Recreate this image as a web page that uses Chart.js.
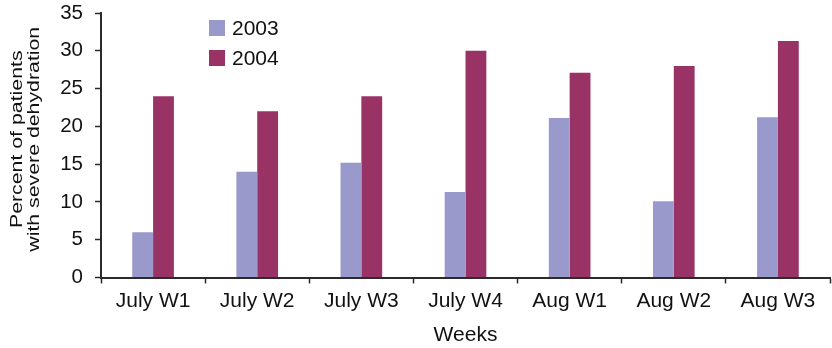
<!DOCTYPE html>
<html>
<head>
<meta charset="utf-8">
<script src="https://cdn.jsdelivr.net/npm/chart.js@4/dist/chart.umd.min.js"></script>
<style>
  html, body { margin: 0; padding: 0; background: #fff; }
  #wrap { width: 832px; height: 348px; }
</style>
</head>
<body>
<div id="wrap"><canvas id="chart" width="832" height="348"></canvas></div>
<script>
// Weekly share of patients presenting with severe dehydration
const weeks = ['July W1', 'July W2', 'July W3', 'July W4', 'Aug W1', 'Aug W2', 'Aug W3'];
const pct2003 = [6, 14, 15.2, 11.3, 21.1, 10.1, 21.2];
const pct2004 = [24, 22, 24, 30, 27.1, 28, 31.3];
const yTicks = [0, 5, 10, 15, 20, 25, 30, 35];
const yTitleLines = ['Percent of patients', 'with severe dehydration'];

const FONT = '"Liberation Sans", Arial, Helvetica, sans-serif';
const INK = '#111';
const AXIS = '#2b2b2b';

// Legend drawn inside the plot area, near its top-left corner
const insetLegend = {
  id: 'insetLegend',
  afterDraw(chart) {
    const { ctx, chartArea } = chart;
    const x0 = chartArea.left + 108;
    const y0 = chartArea.top + 15;
    ctx.save();
    chart.data.datasets.forEach((ds, i) => {
      const cy = y0 + i * 30;
      ctx.fillStyle = ds.backgroundColor;
      ctx.fillRect(x0, cy - 8, 16, 16);
      ctx.fillStyle = INK;
      ctx.font = '21px ' + FONT;
      ctx.textBaseline = 'middle';
      ctx.textAlign = 'left';
      ctx.fillText(ds.label, x0 + 23, cy + 1);
    });
    ctx.restore();
  }
};

// Two-line rotated y-axis title set in a slightly condensed face
const yAxisTitle = {
  id: 'yAxisTitle',
  afterDraw(chart) {
    const { ctx, chartArea } = chart;
    const squeeze = 0.8;
    const baselines = [22, 39.3];
    ctx.save();
    ctx.translate(0, (chartArea.top + chartArea.bottom) / 2 - 6);
    ctx.rotate(-Math.PI / 2);
    ctx.scale(1, squeeze);
    ctx.fillStyle = INK;
    ctx.font = '21.3px ' + FONT;
    ctx.textAlign = 'center';
    ctx.textBaseline = 'alphabetic';
    yTitleLines.forEach((line, i) => {
      ctx.fillText(line, 0, baselines[i] / squeeze);
    });
    ctx.restore();
  }
};

new Chart(document.getElementById('chart'), {
  type: 'bar',
  data: {
    labels: weeks,
    datasets: [
      { label: '2003', data: pct2003, backgroundColor: '#9999CC', categoryPercentage: 0.4, barPercentage: 1.0 },
      { label: '2004', data: pct2004, backgroundColor: '#993366', categoryPercentage: 0.4, barPercentage: 1.0 }
    ]
  },
  options: {
    responsive: false,
    devicePixelRatio: 1,
    animation: false,
    layout: { padding: { left: 0, right: 2, top: 13, bottom: 0 } },
    plugins: {
      legend: { display: false },
      tooltip: { enabled: false }
    },
    scales: {
      x: {
        grid: { display: true, drawOnChartArea: false, drawTicks: true, tickLength: 6, tickColor: AXIS, tickWidth: 1.5, offset: true },
        border: { display: true, color: AXIS, width: 2 },
        ticks: { color: INK, font: { family: FONT, size: 21 }, padding: 5, maxRotation: 0 },
        title: { display: true, text: 'Weeks', color: INK, font: { family: FONT, size: 21 }, padding: { top: 9, bottom: 0 } },
        afterFit(scale) {
          scale.height = 70.5;
          scale.paddingLeft = 0;
          scale.paddingRight = 0;
        }
      },
      y: {
        min: 0,
        max: 35,
        afterBuildTicks(scale) { scale.ticks = yTicks.map(v => ({ value: v })); },
        grid: { display: true, drawOnChartArea: false, drawTicks: true, tickLength: 6, tickColor: AXIS, tickWidth: 1.5 },
        border: { display: true, color: AXIS, width: 2 },
        ticks: { color: INK, font: { family: FONT, size: 20.5 }, padding: 12 },
        title: { display: false },
        afterFit(scale) {
          scale.width = 101;
          scale.paddingTop = 0;
          scale.paddingBottom = 0;
        }
      }
    }
  },
  plugins: [insetLegend, yAxisTitle]
});
</script>
</body>
</html>
